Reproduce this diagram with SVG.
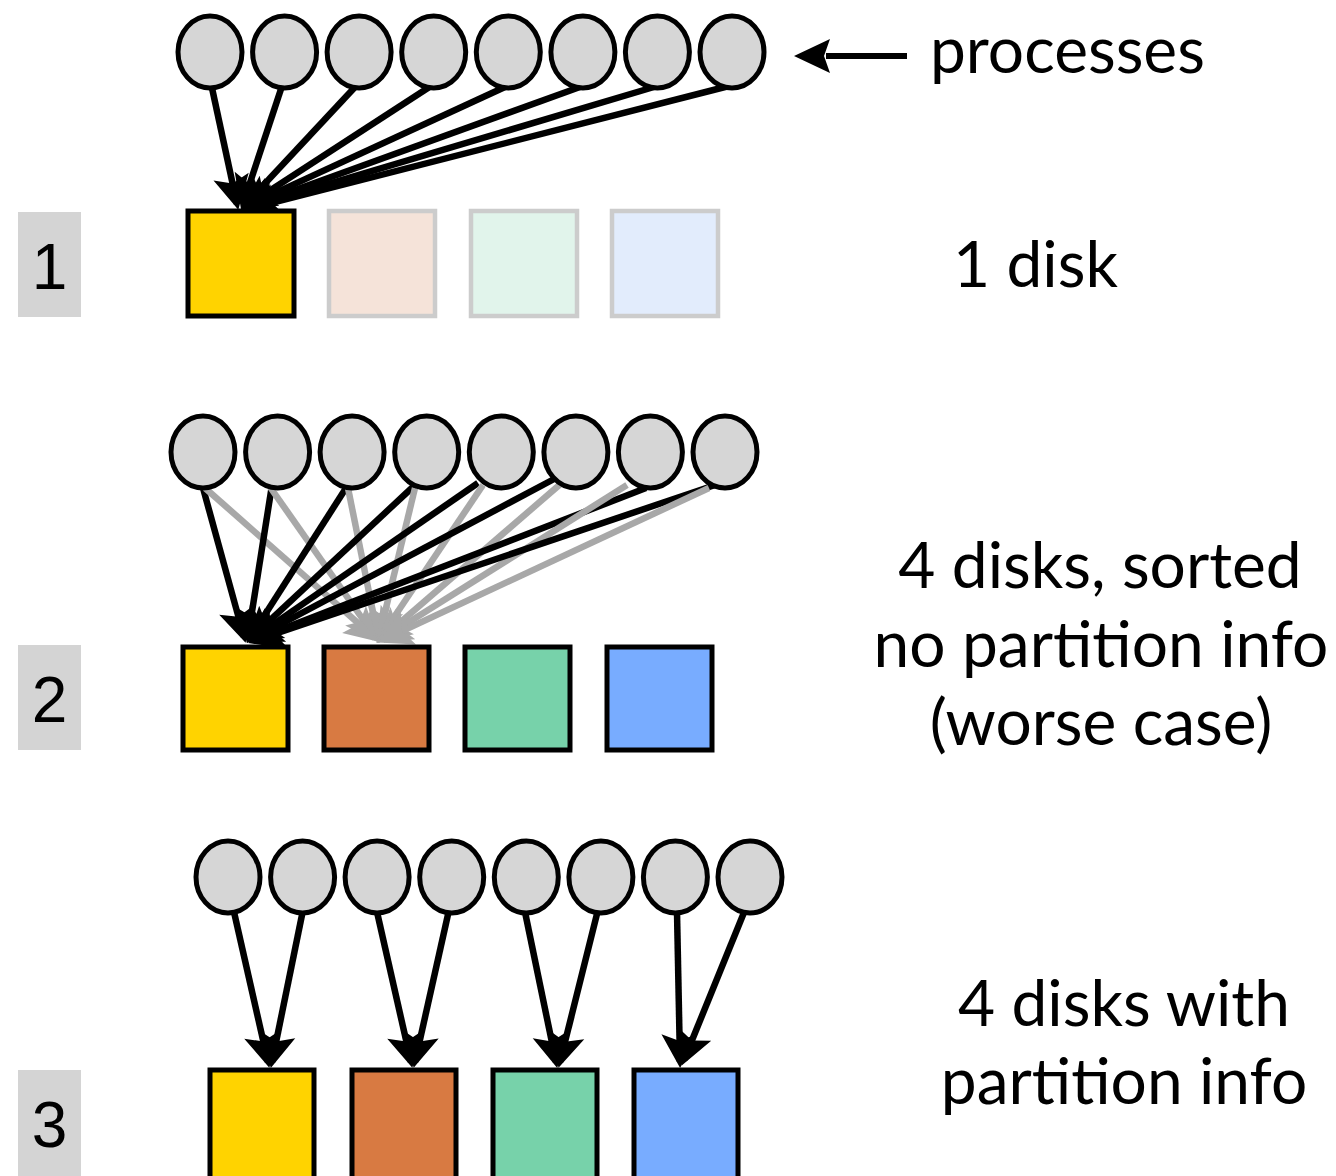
<svg xmlns="http://www.w3.org/2000/svg" width="1336" height="1176" viewBox="0 0 1336 1176">
  <style>
    .proc { fill: #d6d6d6; stroke: #000; stroke-width: 5; }
    .disk { stroke: #000; stroke-width: 5; }
    .faint { stroke: #cccccc; stroke-width: 4.5; }
    .tag { fill: #d4d4d4; }
    .num { font-family: "Liberation Sans", Arial, sans-serif; font-size: 64px; fill: #000; text-anchor: middle; }
    .cap { font-family: Lato, "Open Sans", sans-serif; font-size: 64px; fill: #000; }
    .mid { text-anchor: middle; }
    .blk { stroke: #000; stroke-width: 6.5; fill: none; marker-end: url(#ah); }
    .gry { stroke: #a8a8a8; stroke-width: 6.5; fill: none; marker-end: url(#ahg); }
  </style>
  <defs>
    <marker id="ah" viewBox="-36 -20 38 40" refX="-6" refY="0" markerWidth="38" markerHeight="40" markerUnits="userSpaceOnUse" orient="auto">
      <path d="M0,0 L-34,-18 L-27,0 L-34,18 Z" fill="#000"/>
    </marker>
    <marker id="ahg" viewBox="-36 -20 38 40" refX="-6" refY="0" markerWidth="38" markerHeight="40" markerUnits="userSpaceOnUse" orient="auto">
      <path d="M0,0 L-34,-18 L-27,0 L-34,18 Z" fill="#a8a8a8"/>
    </marker>
    <ellipse id="p" cx="0" cy="0" rx="32" ry="36" class="proc"/>
  </defs>

  <!-- scenario tags -->
  <g id="tag1"><rect class="tag" x="18" y="212" width="63" height="105"/><text class="num" x="49.5" y="289">1</text></g>
  <g id="tag2"><rect class="tag" x="18" y="645" width="63" height="105"/><text class="num" x="49.5" y="722">2</text></g>
  <g id="tag3"><rect class="tag" x="18" y="1070" width="63" height="106"/><text class="num" x="49.5" y="1147">3</text></g>

  <!-- connectors -->
  <g id="connectors">
    <!-- scenario 1: every process writes to the single disk -->
    <path class="blk" d="M212,88 L237,204"/>
    <path class="blk" d="M282,86 L243,204"/>
    <path class="blk" d="M356,86 L245,205"/>
    <path class="blk" d="M431,86 L246,206"/>
    <path class="blk" d="M505,87 L247,206"/>
    <path class="blk" d="M580,87 L248,207"/>
    <path class="blk" d="M654,87 L248,208"/>
    <path class="blk" d="M729,86 L248,209"/>

    <!-- scenario 2: every process writes to the first two disks -->
    <path class="blk" d="M203,488 L244,637"/>
    <path class="gry" d="M205,488 L375,638"/>
    <path class="blk" d="M272,485 L248,637"/>
    <path class="gry" d="M270,487 L376,638"/>
    <path class="blk" d="M346,488 L250,638"/>
    <path class="gry" d="M348,488 L378,637"/>
    <path class="blk" d="M415,485 L251,638"/>
    <path class="gry" d="M415,488 L379,637"/>
    <path class="blk" d="M478,483 L252,639"/>
    <path class="gry" d="M483,485 L380,638"/>
    <path class="blk" d="M556,478 L253,639"/>
    <path class="gry" d="M564,481 L381,639"/>
    <path class="blk" d="M646,488 L254,640"/>
    <path class="gry" d="M627,485 L382,639"/>
    <path class="blk" d="M715,485 L254,641"/>
    <path class="gry" d="M709,488 L383,640"/>

    <!-- scenario 3: process pairs write to their own disk -->
    <path class="blk" d="M234,912 L268,1062"/>
    <path class="blk" d="M303,910 L272,1062"/>
    <path class="blk" d="M377,912 L411,1062"/>
    <path class="blk" d="M449,910 L415,1062"/>
    <path class="blk" d="M525,912 L556,1062"/>
    <path class="blk" d="M598,910 L560,1062"/>
    <path class="blk" d="M677,912 L680,1062"/>
    <path class="blk" d="M745,910 L684,1060"/>

    <!-- legend arrow -->
    <path d="M907,56 L826,56" stroke="#000" stroke-width="6" fill="none"/>
    <path d="M794,56 L830,39 L824,56 L830,73 Z" fill="#000"/>
  </g>

  <!-- scenario 1 -->
  <g id="procs1">
    <use href="#p" x="210" y="52"/><use href="#p" x="284.6" y="52"/><use href="#p" x="359.1" y="52"/><use href="#p" x="433.7" y="52"/>
    <use href="#p" x="508.3" y="52"/><use href="#p" x="582.9" y="52"/><use href="#p" x="657.4" y="52"/><use href="#p" x="732" y="52"/>
  </g>
  <g id="disks1">
    <rect class="disk" x="188" y="211" width="106" height="105" fill="#ffd300"/>
    <rect class="faint" x="329" y="211" width="106" height="105" fill="#f5e3d9"/>
    <rect class="faint" x="471" y="211" width="106" height="105" fill="#e1f4eb"/>
    <rect class="faint" x="612" y="211" width="106" height="105" fill="#e2ecfc"/>
  </g>

  <!-- scenario 2 -->
  <g id="procs2">
    <use href="#p" x="203" y="452"/><use href="#p" x="277.6" y="452"/><use href="#p" x="352.1" y="452"/><use href="#p" x="426.7" y="452"/>
    <use href="#p" x="501.3" y="452"/><use href="#p" x="575.9" y="452"/><use href="#p" x="650.4" y="452"/><use href="#p" x="725" y="452"/>
  </g>
  <g id="disks2">
    <rect class="disk" x="183" y="647" width="105" height="103" fill="#ffd300"/>
    <rect class="disk" x="324" y="647" width="105" height="103" fill="#d87a42"/>
    <rect class="disk" x="465" y="647" width="105" height="103" fill="#77d2aa"/>
    <rect class="disk" x="607" y="647" width="105" height="103" fill="#78acff"/>
  </g>

  <!-- scenario 3 -->
  <g id="procs3">
    <use href="#p" x="228" y="877"/><use href="#p" x="302.6" y="877"/><use href="#p" x="377.1" y="877"/><use href="#p" x="451.7" y="877"/>
    <use href="#p" x="526.3" y="877"/><use href="#p" x="600.9" y="877"/><use href="#p" x="675.4" y="877"/><use href="#p" x="750" y="877"/>
  </g>
  <g id="disks3">
    <rect class="disk" x="210" y="1070" width="104" height="110" fill="#ffd300"/>
    <rect class="disk" x="352" y="1070" width="104" height="110" fill="#d87a42"/>
    <rect class="disk" x="493" y="1070" width="104" height="110" fill="#77d2aa"/>
    <rect class="disk" x="634" y="1070" width="104" height="110" fill="#78acff"/>
  </g>

  <!-- captions -->
  <g id="captions">
    <text class="cap" x="930" y="73">processes</text>
    <text class="cap" x="953" y="287">1 disk</text>
    <text class="cap mid" x="1100" y="588">4 disks, sorted</text>
    <text class="cap mid" x="1101" y="667">no partition info</text>
    <text class="cap mid" x="1101" y="745">(worse case)</text>
    <text class="cap mid" x="1124" y="1026">4 disks with</text>
    <text class="cap mid" x="1124" y="1104">partition info</text>
  </g>
</svg>
